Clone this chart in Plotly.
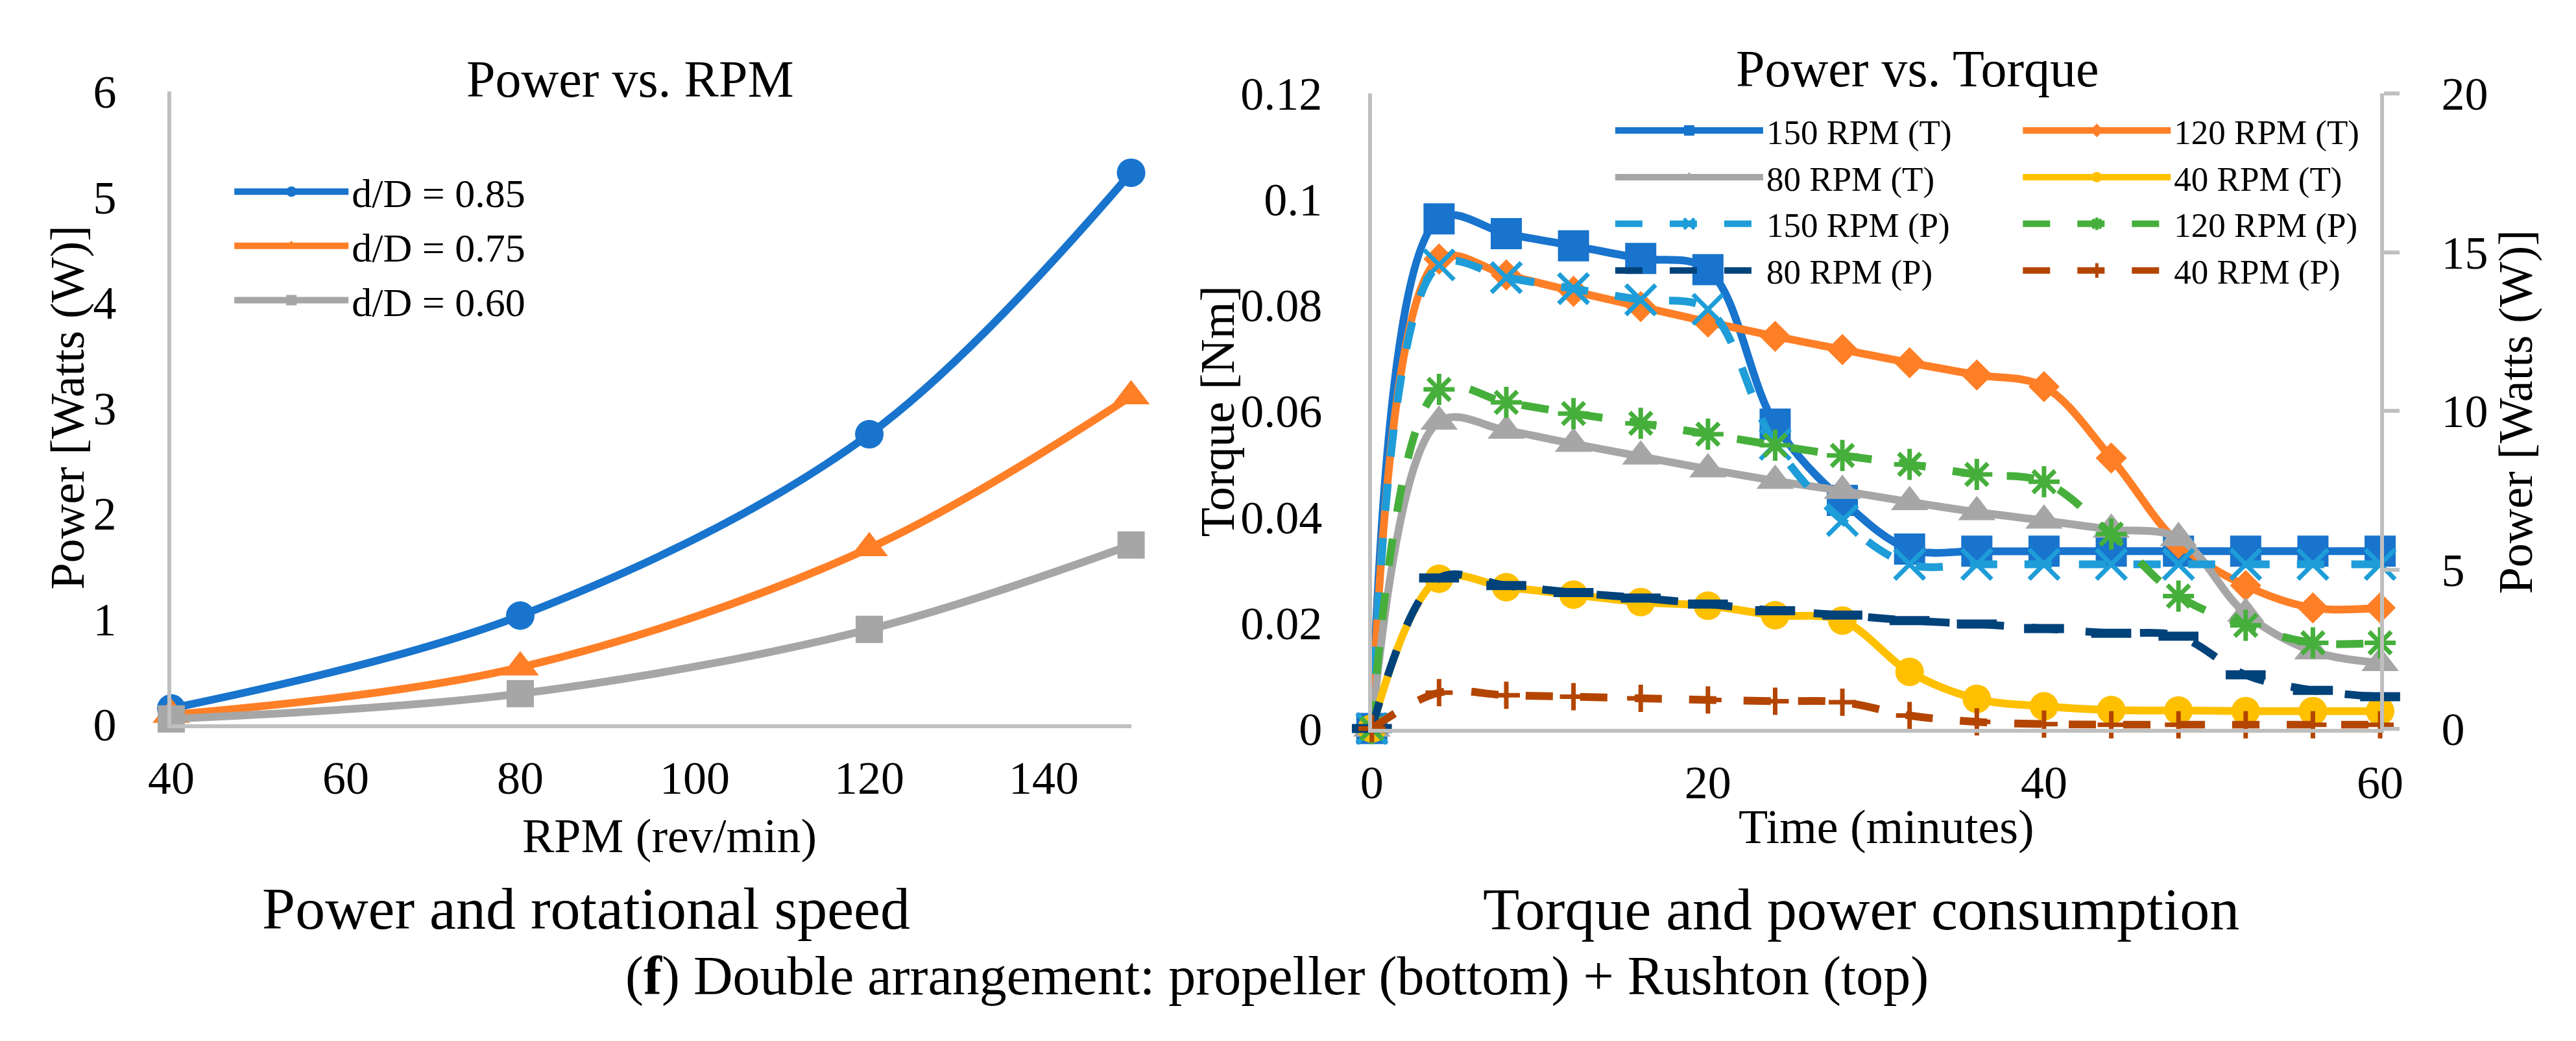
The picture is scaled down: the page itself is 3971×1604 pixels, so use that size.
import plotly.graph_objects as go

# left panel: power vs rpm
rpm = [40, 80, 120, 150]
power_085 = [0.15, 1.03, 2.75, 5.23]
power_075 = [0.09, 0.54, 1.67, 3.11]
power_060 = [0.05, 0.29, 0.90, 1.70]

# right panel: torque (Nm) and power (W) over time
minutes = [0, 4, 8, 12, 16, 20, 24, 28, 32, 36, 40, 44, 48, 52, 56, 60]
torque_150 = [0, 0.0963, 0.0935, 0.0912, 0.0888, 0.0867, 0.0575, 0.0431, 0.0339, 0.0335,
              0.0335, 0.0335, 0.0335, 0.0335, 0.0335, 0.0335]
torque_120 = [0, 0.0887, 0.0857, 0.0826, 0.0797, 0.0768, 0.0741, 0.0716, 0.0691, 0.0668,
              0.0646, 0.0511, 0.0350, 0.0270, 0.0228, 0.0228]
torque_80 = [0, 0.0580, 0.0563, 0.0538, 0.0514, 0.0490, 0.0468, 0.0449, 0.0428, 0.0409,
             0.0393, 0.0376, 0.0360, 0.0217, 0.0146, 0.0124]
torque_40 = [0, 0.0283, 0.0267, 0.0253, 0.0239, 0.0232, 0.0214, 0.0204, 0.0107, 0.0056,
             0.0042, 0.0035, 0.0034, 0.0033, 0.0033, 0.0033]
power_150 = [0, 14.6, 14.2, 13.85, 13.5, 13.2, 8.95, 6.55, 5.17, 5.17, 5.17, 5.17, 5.17, 5.17, 5.17, 5.17]
power_120 = [0, 10.68, 10.27, 9.92, 9.61, 9.27, 8.92, 8.6, 8.32, 8.0, 7.77, 6.12, 4.17, 3.25, 2.7, 2.7]
power_80 = [0, 4.74, 4.5, 4.28, 4.11, 3.92, 3.71, 3.57, 3.4, 3.29, 3.15, 3.0, 2.91, 1.69, 1.2, 1.0]
power_40 = [0, 1.13, 1.05, 1.0, 0.95, 0.9, 0.86, 0.83, 0.41, 0.21, 0.14, 0.12, 0.12, 0.12, 0.12, 0.12]

W, H = 3971, 1604
FONT = "Liberation Serif, Times New Roman, serif"
AXIS_GREY = "#BFBFBF"
BLUE, ORANGE, GREY, GOLD = "#1874CD", "#FF7F27", "#A6A6A6", "#FFC000"
LIGHT_BLUE, GREEN, NAVY, BROWN = "#1E9DD8", "#46AF3C", "#00427A", "#B44500"
DASH = "42px,42px"


def px(x):
    return x / W


def py(y):
    return 1 - y / H


def tick_font():
    return dict(family=FONT, size=72, color="black")


fig = go.Figure()

left_series = [
    ("d/D = 0.85", power_085, BLUE, "circle", 44),
    ("d/D = 0.75", power_075, ORANGE, "triangle-up", 50),
    ("d/D = 0.60", power_060, GREY, "square", 42),
]
for name, vals, color, symbol, size in left_series:
    fig.add_trace(go.Scatter(
        x=rpm, y=vals, name=name, mode="lines+markers",
        line=dict(color=color, width=12, shape="spline"),
        marker=dict(symbol=symbol, size=size, color=color),
        xaxis="x", yaxis="y", legend="legend", cliponaxis=False,
    ))

# (name, values, colour, symbol, size, marker line width, dashed, axis, legend)
right_series = [
    ("150 RPM (T)", torque_150, BLUE, "square", 48, 0, False, "y2", "legend2"),
    ("120 RPM (T)", torque_120, ORANGE, "diamond", 37, 0, False, "y2", "legend3"),
    ("80 RPM (T)", torque_80, GREY, "triangle-up", 50, 0, False, "y2", "legend2"),
    ("40 RPM (T)", torque_40, GOLD, "circle", 44, 0, False, "y2", "legend3"),
    ("150 RPM (P)", power_150, LIGHT_BLUE, "x-thin-open", 46, 7, True, "y3", "legend2"),
    ("120 RPM (P)", power_120, GREEN, "asterisk-open", 40, 7, True, "y3", "legend3"),
    ("80 RPM (P)", power_80, NAVY, "line-ew-open", 44, 14, True, "y3", "legend2"),
    ("40 RPM (P)", power_40, BROWN, "cross-thin-open", 30, 7, True, "y3", "legend3"),
]
for name, vals, color, symbol, size, mlw, dashed, yax, leg in right_series:
    marker = dict(symbol=symbol, size=size, color=color)
    if mlw:
        marker["line"] = dict(color=color, width=mlw)
    fig.add_trace(go.Scatter(
        x=minutes, y=vals, name=name, mode="lines+markers",
        line=dict(color=color, width=12, shape="spline", dash=DASH if dashed else "solid"),
        marker=marker, xaxis="x2", yaxis=yax, legend=leg, cliponaxis=False,
    ))


def axis(**kw):
    base = dict(showline=True, linecolor=AXIS_GREY, linewidth=6, showgrid=False,
                zeroline=False, ticks="", tickfont=tick_font(), fixedrange=True)
    base.update(kw)
    return base


def legend(x, y, size, width):
    return dict(x=px(x), y=py(y), itemwidth=width, font=dict(family=FONT, size=size, color="black"),
                bgcolor="rgba(0,0,0,0)", itemsizing="trace", yanchor="top", xanchor="left",
                orientation="v")


fig.update_layout(
    width=W, height=H,
    margin=dict(l=0, r=0, t=0, b=0),
    paper_bgcolor="white", plot_bgcolor="white",
    font=dict(family=FONT, color="black"),
    xaxis=axis(domain=[px(224), px(1731)], range=[40, 150], dtick=20, tick0=40,
               anchor="y", ticklabelstandoff=15),
    yaxis=axis(domain=[py(1125), py(99)], range=[0, 6], dtick=1,
               anchor="x", ticklabelstandoff=64),
    xaxis2=axis(domain=[px(2109), px(3692)], range=[0, 60], dtick=20,
                anchor="y2", ticklabelstandoff=15),
    yaxis2=axis(domain=[py(1132), py(102)], range=[0, 0.12], dtick=0.02,
                anchor="x2", ticklabelstandoff=56),
    yaxis3=axis(range=[0, 20], dtick=5, overlaying="y2", side="right", anchor="x2",
                ticks="outside", ticklen=24, tickwidth=6, tickcolor=AXIS_GREY,
                ticklabelstandoff=50),
    legend=legend(318, 212, 62, 176),
    legend2=legend(2486, 119, 53, 228),
    legend3=legend(3126, 119, 53, 228),
    showlegend=True,
)

texts = [
    ("Power vs. RPM", 945, 79, 80, 0),
    ("Power vs. Torque", 2966, 62, 80, 0),
    ("Power [Watts (W)]", 61, 611, 74, -90),
    ("RPM (rev/min)", 1006, 1306, 74, 0),
    ("Power and rotational speed", 875, 1424, 92, 0),
    ("Torque [Nm]", 1867, 618, 74, -90),
    ("Time (minutes)", 2917, 1291, 74, 0),
    ("Torque and power consumption", 2877, 1425, 92, 0),
    ("Power [Watts (W)]", 3905, 619, 74, -90),
    ("(<b>f</b>) Double arrangement: propeller (bottom) + Rushton (top)", 1960, 1534, 84, 0),
]
for text, x, y, size, angle in texts:
    fig.add_annotation(
        text=text, x=px(x), y=py(y), xref="paper", yref="paper",
        xanchor="center", yanchor="middle", showarrow=False, textangle=angle,
        font=dict(family=FONT, size=size, color="black"),
    )

fig.write_html("out.html")
